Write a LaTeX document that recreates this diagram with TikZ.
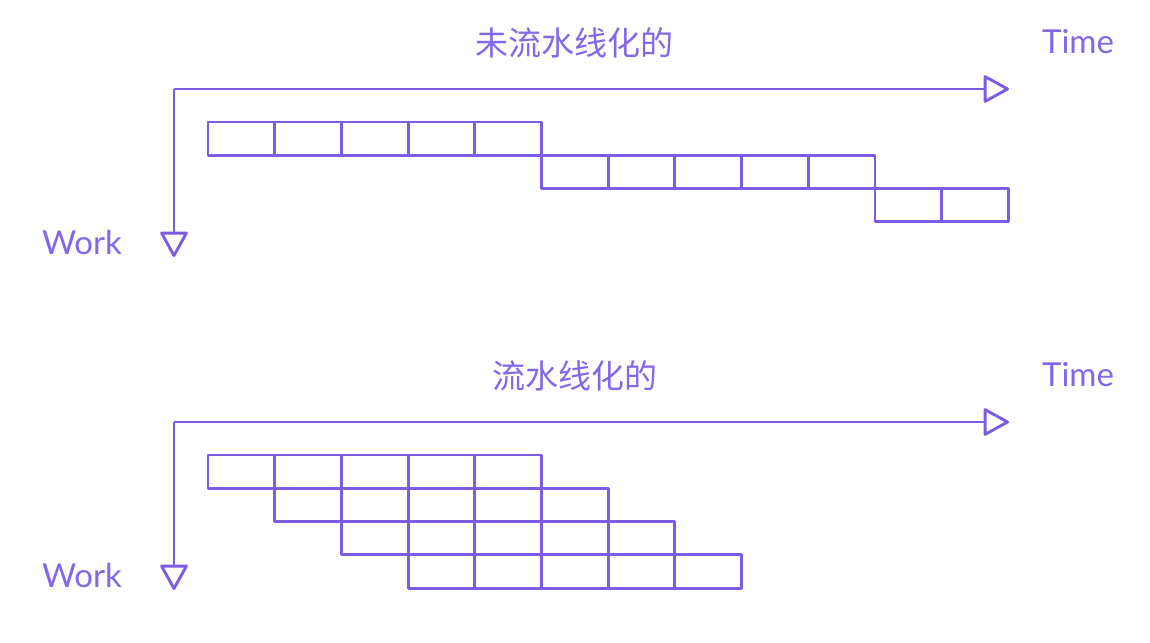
\documentclass[tikz,border=0pt]{standalone}
\usepackage{fontspec}
\setmainfont{Lato}
\newfontfamily\cjk{Noto Sans CJK SC}
\usetikzlibrary{arrows.meta}
\definecolor{lavender}{HTML}{7B5CE3}
\definecolor{lavtext}{HTML}{8467E8}
\tikzset{cell/.style={draw=lavender,rectangle,minimum width=66.7pt,minimum height=33.3pt,
    inner sep=0pt,outer sep=0pt,line width=2.9pt,line join=round,anchor=north west},
    axis/.style={draw=lavender,line width=2.9pt,line join=round,
    -{Triangle[open,length=27pt,width=29pt,round]}},
    lbl/.style={text=lavtext,font=\fontsize{33}{38}\selectfont}}

\begin{document}
\begin{tikzpicture}[x=1pt,y=-1pt]
\useasboundingbox (0,0) rectangle (1150,642);
% not pipelined
\node[lbl] (title1) at (574,43) {\cjk 未流水线化的};
\node[lbl] (time1) at (1078,42) {Time};
\node[lbl] (work1) at (82,242) {Work};
\coordinate (o1) at (174,89);
\coordinate (t1) at (1009,89);
\coordinate (w1) at (174,257);
\draw[axis] (o1) -- (t1);
\draw[axis] (o1) -- (w1);
\foreach \r/\n in {0/5,1/5,2/2}
  \foreach \i in {1,...,\n}
    \node[cell] (u-\r-\i) at ({208+(5*\r+\i-1)*66.7},{122+33.2*\r}) {};
% pipelined
\node[lbl] (title2) at (575,376) {\cjk 流水线化的};
\node[lbl] (time2) at (1078,375) {Time};
\node[lbl] (work2) at (82,575) {Work};
\coordinate (o2) at (174,422);
\coordinate (t2) at (1009,422);
\coordinate (w2) at (174,590);
\draw[axis] (o2) -- (t2);
\draw[axis] (o2) -- (w2);
\foreach \r in {0,...,3}
  \foreach \i in {1,...,5}
    \node[cell] (p-\r-\i) at ({208+(\r+\i-1)*66.7},{455+33.3*\r}) {};
\end{tikzpicture}
\end{document}
